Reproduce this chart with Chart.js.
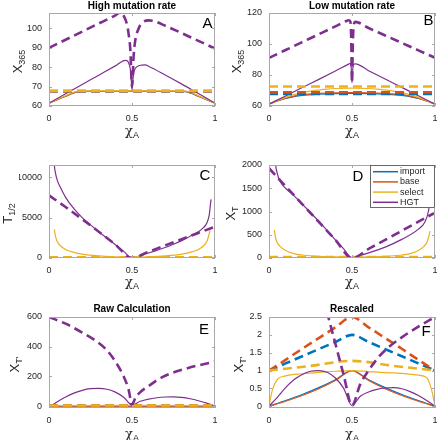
<!DOCTYPE html>
<html><head><meta charset="utf-8">
<script src="https://cdn.jsdelivr.net/npm/chart.js@4/dist/chart.umd.min.js"></script>
<style>
html,body{margin:0;padding:0;background:#fff;}
#wrap{position:relative;width:437px;height:440px;overflow:hidden;background:#fff;}
canvas{position:absolute;}
</style></head><body><div id="wrap"></div>
<script>
// ---------- names, ticks ----------
const seriesNames = ['import', 'base', 'select', 'HGT'];
const xTicks = [0, 0.5, 1];
const yTicksA = [60, 70, 80, 90, 100];
const yTicksB = [60, 80, 100, 120];
const yTicksC = [0, 5000, 10000];
const yTicksD = [0, 500, 1000, 1500, 2000];
const yTicksE = [0, 200, 400, 600];
const yTicksF = [0, 0.5, 1, 1.5, 2, 2.5];

// ---------- Panel A: High mutation rate (X365) ----------
const A_import_solid = [[0,61.4],[0.05,63.2],[0.1,65.0],[0.15,66.8],[0.18,67.4],[0.25,67.5],[0.5,67.5],[0.75,67.5],[0.82,67.4],[0.85,66.8],[0.9,65.0],[0.95,63.2],[1,61.4]];
const A_base_solid = [[0,61.4],[0.05,63.3],[0.1,65.1],[0.15,66.9],[0.18,67.5],[0.25,67.6],[0.5,67.6],[0.75,67.6],[0.82,67.5],[0.85,66.9],[0.9,65.1],[0.95,63.3],[1,61.4]];
const A_select_solid = [[0,61.5],[0.05,63.4],[0.1,65.3],[0.15,67.1],[0.18,67.7],[0.25,67.8],[0.5,67.8],[0.75,67.8],[0.82,67.7],[0.85,67.1],[0.9,65.3],[0.95,63.4],[1,61.5]];
const A_HGT_solid = [[0,61.5],[0.1,66.3],[0.2,71.1],[0.3,75.9],[0.4,80.7],[0.46,83.6],[0.475,83],[0.485,81],[0.493,77],[0.5,68.2],[0.507,75],[0.515,78.5],[0.53,80.3],[0.56,81.1],[0.58,81.2],[0.6,80.5],[0.7,76],[0.8,71.3],[0.9,66.4],[1,61.5]];
const A_import_dash = [[0,67.6],[1,67.6]];
const A_base_dash = [[0,67.7],[1,67.7]];
const A_select_dash = [[0,67.9],[1,67.9]];
const A_HGT_dash = [[0,90],[0.1,94.2],[0.2,98.4],[0.3,102.6],[0.4,106.8],[0.43,108.3],[0.45,106.5],[0.47,102],[0.48,97],[0.49,89],[0.5,70],[0.51,86],[0.52,94],[0.54,100],[0.56,102.8],[0.6,104.2],[0.64,103.6],[0.7,101.4],[0.8,97.6],[0.9,93.6],[1,89.7]];

// ---------- Panel B: Low mutation rate (X365) ----------
const B_import_solid = [[0,61.2],[0.05,63.2],[0.1,64.9],[0.15,66.1],[0.2,66.9],[0.3,67.6],[0.4,68.0],[0.5,68.1],[0.6,68.0],[0.7,67.6],[0.8,66.9],[0.85,66.1],[0.9,64.9],[0.95,63.2],[1,61.2]];
const B_base_solid = [[0,61.2],[0.05,63.3],[0.1,65.1],[0.15,66.4],[0.2,67.3],[0.3,68.1],[0.4,68.5],[0.5,68.6],[0.6,68.5],[0.7,68.1],[0.8,67.3],[0.85,66.4],[0.9,65.1],[0.95,63.3],[1,61.2]];
const B_select_solid = [[0,61.2],[0.05,63.5],[0.1,65.6],[0.15,67.3],[0.2,68.6],[0.25,69.6],[0.3,70.3],[0.35,70.9],[0.4,71.3],[0.5,71.5],[0.6,71.3],[0.65,70.9],[0.7,70.3],[0.75,69.6],[0.8,68.6],[0.85,67.3],[0.9,65.6],[0.95,63.5],[1,61.2]];
const B_HGT_solid = [[0,61.2],[0.1,66.5],[0.2,71.9],[0.3,77.2],[0.4,82.6],[0.48,87],[0.49,87.5],[0.495,85],[0.5,75],[0.505,84],[0.51,86.8],[0.52,87.2],[0.6,82.8],[0.7,77.4],[0.8,72],[0.9,66.6],[1,61.2]];
const B_import_dash = [[0,67.7],[1,67.7]];
const B_base_dash = [[0,68.9],[1,68.9]];
const B_select_dash = [[0,72.6],[1,72.6]];
const B_HGT_dash = [[0,91],[0.1,96.1],[0.2,101.2],[0.3,106.3],[0.4,111.4],[0.47,115],[0.48,115.3],[0.49,114.5],[0.495,105],[0.5,75],[0.505,100],[0.51,112],[0.52,114.3],[0.6,110.3],[0.7,105.5],[0.8,100.7],[0.9,95.9],[1,91.1]];

// ---------- Panel C: T1/2 ----------
const C_import_solid = [[0,20],[1,20]];
const C_base_solid = [[0,25],[1,25]];
const C_select_solid = [[0.032,3550],[0.04,2600],[0.05,2000],[0.067,1550],[0.1,1050],[0.15,700],[0.2,480],[0.3,260],[0.4,150],[0.5,110],[0.6,150],[0.7,260],[0.8,480],[0.85,700],[0.9,1050],[0.933,1550],[0.95,2000],[0.96,2600],[0.97,3400]];
const C_HGT_solid = [[0.02,16000],[0.032,11500],[0.04,10400],[0.05,9600],[0.067,8800],[0.1,7500],[0.15,6100],[0.2,5000],[0.25,4100],[0.3,3250],[0.35,2450],[0.4,1640],[0.45,820],[0.5,0],[0.55,300],[0.6,620],[0.65,950],[0.7,1300],[0.75,1700],[0.8,2150],[0.85,2700],[0.9,3250],[0.93,3750],[0.95,4300],[0.965,5300],[0.976,7250]];
const C_import_dash = [[0,30],[1,30]];
const C_base_dash = [[0,40],[1,40]];
const C_select_dash = [[0,100],[1,100]];
const C_HGT_dash = [[0,7750],[0.1,6300],[0.2,4800],[0.3,3250],[0.4,1650],[0.5,0],[0.6,780],[0.7,1560],[0.8,2330],[0.9,3100],[1,3870]];

// ---------- Panel D: XT ----------
const D_import_solid = [[0,5],[1,5]];
const D_base_solid = [[0,6],[1,6]];
const D_select_solid = [[0.032,600],[0.04,430],[0.05,330],[0.067,250],[0.1,160],[0.15,95],[0.2,65],[0.3,35],[0.4,25],[0.5,20],[0.6,25],[0.7,35],[0.8,65],[0.85,95],[0.9,160],[0.933,250],[0.95,330],[0.96,430],[0.97,580]];
const D_HGT_solid = [[0.03,2600],[0.04,2000],[0.05,1820],[0.06,1700],[0.08,1580],[0.1,1500],[0.156,1320],[0.2,1160],[0.25,975],[0.3,790],[0.35,590],[0.4,390],[0.45,195],[0.5,0],[0.55,55],[0.6,110],[0.7,235],[0.8,400],[0.9,620],[0.94,780],[0.96,1000],[0.975,1400],[0.985,2100]];
const D_import_dash = [[0,8],[1,8]];
const D_base_dash = [[0,10],[1,10]];
const D_select_dash = [[0,20],[1,20]];
const D_HGT_dash = [[0,1930],[0.1,1545],[0.2,1160],[0.3,775],[0.4,390],[0.5,0],[0.6,195],[0.7,390],[0.8,585],[0.9,780],[1,975]];

// ---------- Panel E: Raw Calculation (XT') ----------
const E_import_solid = [[0,0],[1,0]];
const E_base_solid = [[0,1],[1,1]];
const E_select_solid = [[0,0],[0.03,4],[0.5,5],[0.97,4],[1,0]];
const E_HGT_solid = [[0.01,0],[0.05,30],[0.1,62],[0.15,88],[0.2,107],[0.25,118],[0.3,120],[0.35,114],[0.4,95],[0.45,60],[0.5,8],[0.55,33],[0.6,48],[0.65,57],[0.7,62],[0.75,63],[0.8,59],[0.85,50],[0.9,37],[0.95,21],[0.99,5]];
const E_import_dash = [[0,3],[1,3]];
const E_base_dash = [[0,4],[1,4]];
const E_select_dash = [[0,5],[1,5]];
const E_HGT_dash = [[0,600],[0.1,555],[0.2,495],[0.3,425],[0.35,375],[0.4,300],[0.45,200],[0.48,110],[0.5,10],[0.52,55],[0.55,95],[0.6,135],[0.65,175],[0.7,205],[0.77,235],[0.8,245],[0.89,272],[1,300]];

// ---------- Panel F: Rescaled (XT') ----------
const F_import_solid = [[0,0],[0.1,0.16],[0.2,0.33],[0.3,0.52],[0.4,0.74],[0.5,1.0],[0.6,0.74],[0.7,0.52],[0.8,0.33],[0.9,0.16],[1,0]];
const F_base_solid = [[0,0],[0.1,0.14],[0.2,0.3],[0.3,0.49],[0.4,0.72],[0.5,1.0],[0.6,0.72],[0.7,0.49],[0.8,0.3],[0.9,0.14],[1,0]];
const F_select_solid = [[0,0],[0.02,0.45],[0.05,0.75],[0.1,0.85],[0.2,0.91],[0.3,0.95],[0.4,0.98],[0.5,1.0],[0.6,0.97],[0.7,0.94],[0.8,0.92],[0.9,0.87],[0.95,0.8],[0.98,0.45],[1,0]];
const F_HGT_solid = [[0,0],[0.05,0.25],[0.1,0.52],[0.15,0.74],[0.2,0.89],[0.25,0.98],[0.3,1.0],[0.35,0.95],[0.4,0.79],[0.45,0.5],[0.5,0.02],[0.55,0.28],[0.6,0.4],[0.65,0.47],[0.7,0.51],[0.75,0.52],[0.8,0.49],[0.85,0.41],[0.9,0.3],[0.95,0.16],[1,0]];
const F_import_dash = [[0,1],[0.1,1.2],[0.2,1.4],[0.3,1.6],[0.4,1.8],[0.5,2.0],[0.6,1.8],[0.7,1.6],[0.8,1.4],[0.9,1.2],[1,1]];
const F_base_dash = [[0,1],[0.1,1.3],[0.2,1.61],[0.3,1.91],[0.4,2.21],[0.5,2.5],[0.6,2.21],[0.7,1.91],[0.8,1.61],[0.9,1.3],[1,1]];
const F_select_dash = [[0,1],[0.25,1.13],[0.5,1.27],[0.75,1.13],[1,1]];
const F_HGT_dash = [[0.3,3.4],[0.357,2.5],[0.4,1.75],[0.45,0.87],[0.5,0.02],[0.55,0.62],[0.6,1.0],[0.65,1.32],[0.7,1.57],[0.8,1.93],[0.9,2.23],[1,2.5]];

// ---------- styling ----------
const colors = ['#0072BD', '#D95319', '#EDB120', '#7E2F8E'];
const FONT = "'Liberation Sans', Arial, sans-serif";
Chart.defaults.font.family = FONT;
Chart.defaults.font.size = 9;
Chart.defaults.color = '#262626';

function ds(pairs, i, dashed) {
  return {
    label: seriesNames[i] + (dashed ? ' (dashed)' : ''),
    data: pairs.map(p => ({x: p[0], y: p[1]})),
    borderColor: colors[i],
    backgroundColor: colors[i],
    borderWidth: dashed ? 2.6 : 1.2,
    borderDash: dashed ? [9, 5] : [],
    pointRadius: 0,
    fill: false,
    cubicInterpolationMode: 'monotone'
  };
}

function drawSub(ctx, main, sub, cx, cy, mainFont, subFont) {
  ctx.font = mainFont; const w1 = ctx.measureText(main).width;
  ctx.font = subFont; const w2 = ctx.measureText(sub).width;
  const x0 = cx - (w1 + w2) / 2;
  ctx.textAlign = 'left'; ctx.textBaseline = 'alphabetic';
  ctx.font = mainFont; ctx.fillText(main, x0, cy + 4);
  ctx.font = subFont; ctx.fillText(sub, x0 + w1, cy + 7);
}

const deco = {
  id: 'deco',
  afterDatasetsDraw(chart, args, o) {
    const ctx = chart.ctx, a = chart.chartArea;
    const l = a.left, r = a.right, t = a.top, b = a.bottom;
    ctx.save();
    // box
    ctx.strokeStyle = '#a8a8a8'; ctx.lineWidth = 1; ctx.setLineDash([]);
    ctx.strokeRect(l + 0.5, t + 0.5, r - l - 1, b - t - 1);
    // inward ticks
    ctx.beginPath();
    chart.scales.x.ticks.forEach(tk => {
      const px = Math.round(chart.scales.x.getPixelForValue(tk.value)) + 0.5;
      ctx.moveTo(px, b); ctx.lineTo(px, b - 3);
      ctx.moveTo(px, t); ctx.lineTo(px, t + 3);
    });
    chart.scales.y.ticks.forEach(tk => {
      const py = Math.round(chart.scales.y.getPixelForValue(tk.value)) + 0.5;
      ctx.moveTo(l, py); ctx.lineTo(l + 3, py);
      ctx.moveTo(r, py); ctx.lineTo(r - 3, py);
    });
    ctx.stroke();
    ctx.fillStyle = '#000';
    // title (alphabetic baseline)
    if (o.title) {
      ctx.font = 'bold 10px ' + FONT; ctx.textAlign = 'center'; ctx.textBaseline = 'alphabetic';
      ctx.fillText(o.title, (l + r) / 2, t + o.titleDy);
    }
    // panel letter
    ctx.font = '15px ' + FONT; ctx.textAlign = 'center'; ctx.textBaseline = 'middle';
    ctx.fillText(o.letter, r + o.letterDx, t + o.letterDy);
    // x axis title
    ctx.fillStyle = '#262626';
    drawSub(ctx, 'χ', 'A', (l + r) / 2, b + o.xTitleDy, "13px 'DejaVu Serif', serif", '9px ' + FONT);
    // y axis title
    ctx.save();
    ctx.translate(l + o.yTitleDx, (t + b) / 2 + 2);
    ctx.rotate(-Math.PI / 2);
    drawSub(ctx, o.yMain, o.ySub, 0, 0, '13px ' + FONT, '9px ' + FONT);
    ctx.restore();
    // legend
    if (o.legend) {
      const lw = 65, lh = 43, lx = r - lw, ly = t;
      ctx.fillStyle = '#fff'; ctx.fillRect(lx, ly, lw, lh);
      ctx.strokeStyle = '#444'; ctx.lineWidth = 0.8; ctx.strokeRect(lx + 0.5, ly + 0.5, lw - 1, lh - 1);
      ctx.font = '9px ' + FONT; ctx.textAlign = 'left'; ctx.textBaseline = 'middle';
      seriesNames.forEach((n, i) => {
        const yy = ly + 6.7 + i * 10.2;
        ctx.strokeStyle = colors[i]; ctx.lineWidth = 1.5;
        ctx.beginPath(); ctx.moveTo(lx + 3, yy); ctx.lineTo(lx + 28, yy); ctx.stroke();
        ctx.fillStyle = '#262626'; ctx.fillText(n, lx + 30, yy);
      });
    }
    ctx.restore();
  }
};

const panels = [
  {canvas:[0,0,218,145], area:[49,13,215,106], yMin:60, yMax:108, yTicks:yTicksA, title:'High mutation rate', titleDy:-4.3, letter:'A', letterDx:-7.5, letterDy:10.8, yMain:'X', ySub:'365', yTitleDx:-31, xTitleDy:25,
   solid:[A_import_solid,A_base_solid,A_select_solid,A_HGT_solid], dash:[A_import_dash,A_base_dash,A_select_dash,A_HGT_dash]},
  {canvas:[218,0,219,145], area:[269,13,435,106], yMin:60, yMax:120, yTicks:yTicksB, title:'Low mutation rate', titleDy:-4.3, letter:'B', letterDx:-6.5, letterDy:8, yMain:'X', ySub:'365', yTitleDx:-32, xTitleDy:25,
   solid:[B_import_solid,B_base_solid,B_select_solid,B_HGT_solid], dash:[B_import_dash,B_base_dash,B_select_dash,B_HGT_dash]},
  {canvas:[0,145,218,145], area:[49,165,215,258], yMin:0, yMax:11500, yTicks:yTicksC, title:'', titleDy:0, letter:'C', letterDx:-10, letterDy:10.5, yMain:'T', ySub:'1/2', yTitleDx:-41, xTitleDy:24,
   solid:[C_import_solid,C_base_solid,C_select_solid,C_HGT_solid], dash:[C_import_dash,C_base_dash,C_select_dash,C_HGT_dash]},
  {canvas:[218,145,219,145], area:[269,165,435,258], yMin:0, yMax:2000, yTicks:yTicksD, title:'', titleDy:0, letter:'D', letterDx:-77, letterDy:11.7, yMain:'X', ySub:'T', yTitleDx:-38, xTitleDy:24, legend:true,
   solid:[D_import_solid,D_base_solid,D_select_solid,D_HGT_solid], dash:[D_import_dash,D_base_dash,D_select_dash,D_HGT_dash]},
  {canvas:[0,290,218,150], area:[49,317,215,408], yMin:-12, yMax:600, yTicks:yTicksE, title:'Raw Calculation', titleDy:-5.5, letter:'E', letterDx:-11, letterDy:13, yMain:'X', ySub:"T'", yTitleDx:-34, xTitleDy:26,
   solid:[E_import_solid,E_base_solid,E_select_solid,E_HGT_solid], dash:[E_import_dash,E_base_dash,E_select_dash,E_HGT_dash]},
  {canvas:[218,290,219,150], area:[269,317,435,408], yMin:-0.05, yMax:2.5, yTicks:yTicksF, title:'Rescaled', titleDy:-5.5, letter:'F', letterDx:-9, letterDy:14.7, yMain:'X', ySub:"T'", yTitleDx:-30, xTitleDy:26,
   solid:[F_import_solid,F_base_solid,F_select_solid,F_HGT_solid], dash:[F_import_dash,F_base_dash,F_select_dash,F_HGT_dash]}
];

const YW = 30, XH = 20;
const wrap = document.getElementById('wrap');
panels.forEach(p => {
  const [cx, cy, cw, ch] = p.canvas;
  const [L, T, R, B] = p.area;
  const cv = document.createElement('canvas');
  cv.width = cw; cv.height = ch;
  cv.style.left = cx + 'px'; cv.style.top = cy + 'px';
  cv.style.width = cw + 'px'; cv.style.height = ch + 'px';
  wrap.appendChild(cv);
  const bottomUp = [];
  p.solid.forEach((s, i) => bottomUp.push(ds(s, i, false)));
  p.dash.forEach((s, i) => bottomUp.push(ds(s, i, true)));
  new Chart(cv, {
    type: 'line',
    data: {datasets: bottomUp.slice().reverse()},
    options: {
      responsive: false, animation: false, devicePixelRatio: 1,
      events: [],
      layout: {padding: {left: (L - cx) - YW, top: T - cy, right: cw - (R - cx), bottom: ch - (B - cy) - XH}},
      plugins: {
        legend: {display: false}, tooltip: {enabled: false}, title: {display: false},
        deco: {title: p.title, titleDy: p.titleDy, letter: p.letter, letterDx: p.letterDx, letterDy: p.letterDy,
               yMain: p.yMain, ySub: p.ySub, yTitleDx: p.yTitleDx, xTitleDy: p.xTitleDy, legend: !!p.legend}
      },
      scales: {
        x: {
          type: 'linear', min: 0, max: 1,
          grid: {display: false, drawTicks: false}, border: {display: false},
          ticks: {padding: 7, maxRotation: 0, autoSkip: false, callback: v => String(v)},
          afterBuildTicks: s => { s.ticks = xTicks.map(v => ({value: v})); },
          afterFit: s => { s.height = XH; s.paddingLeft = 0; s.paddingRight = 0; }
        },
        y: {
          type: 'linear', min: p.yMin, max: p.yMax,
          grid: {display: false, drawTicks: false}, border: {display: false},
          ticks: {padding: 7, autoSkip: false, callback: v => String(v)},
          afterBuildTicks: s => { s.ticks = p.yTicks.map(v => ({value: v})); },
          afterFit: s => { s.width = YW; s.paddingTop = 0; s.paddingBottom = 0; }
        }
      }
    },
    plugins: [deco]
  });
});
</script>
</body></html>
